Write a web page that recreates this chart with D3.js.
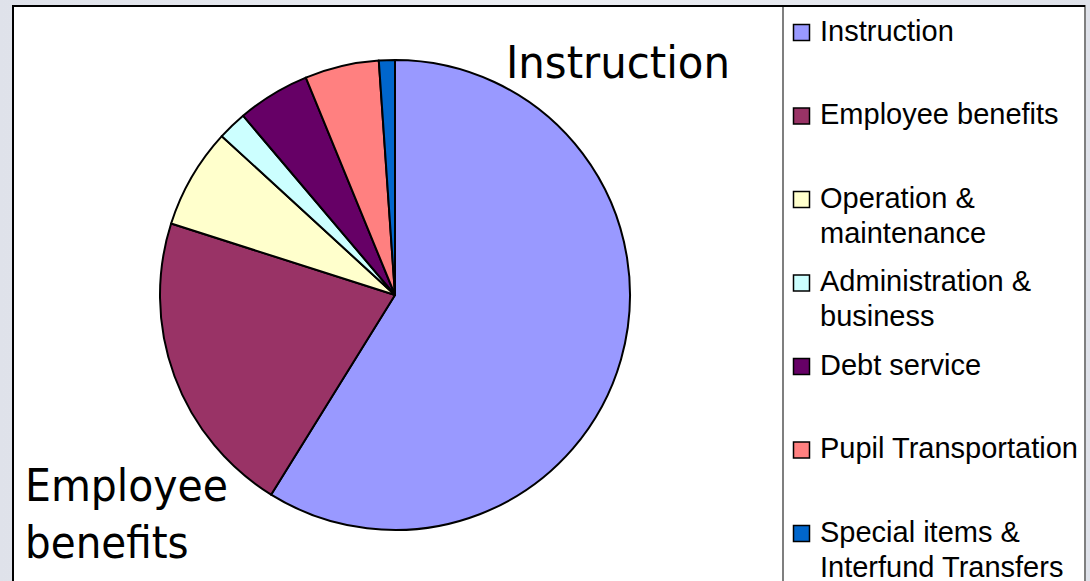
<!DOCTYPE html>
<html>
<head>
<meta charset="utf-8">
<script src="https://cdn.jsdelivr.net/npm/d3@7"></script>
<style>
  html, body { margin: 0; padding: 0; background: #e4e7ee; }
  svg { display: block; }
</style>
</head>
<body>
<div id="chart"></div>
<script>
const categories = [
  'Instruction',
  'Employee benefits',
  'Operation & maintenance',
  'Administration & business',
  'Debt service',
  'Pupil Transportation',
  'Special items & Interfund Transfers'
];
const values = [58.9, 21.1, 6.9, 2.0, 5.0, 5.1, 1.1];
const legendLines = [
  ['Instruction'],
  ['Employee benefits'],
  ['Operation &', 'maintenance'],
  ['Administration &', 'business'],
  ['Debt service'],
  ['Pupil Transportation'],
  ['Special items &', 'Interfund Transfers']
];
const colors = ['#9999FF', '#993366', '#FFFFCC', '#CCFFFF', '#660066', '#FF8080', '#0066CC'];

const width = 1090;
const height = 581;
const cx = 395;
const cy = 295;
const radius = 235;

const svg = d3.select('#chart')
  .append('svg')
  .attr('width', width)
  .attr('height', height);

const defs = svg.append('defs');
const bg = defs.append('linearGradient').attr('id', 'bg-gradient');
bg.append('stop').attr('offset', '0%').attr('stop-color', '#dfe2ea');
bg.append('stop').attr('offset', '50%').attr('stop-color', '#eceef3');
bg.append('stop').attr('offset', '100%').attr('stop-color', '#dfe2ea');

svg.append('rect')
  .attr('width', width)
  .attr('height', height)
  .attr('fill', 'url(#bg-gradient)');

// plot area
svg.append('rect')
  .attr('x', 13)
  .attr('y', 6)
  .attr('width', 1072)
  .attr('height', 600)
  .attr('fill', 'white')
  .attr('stroke', 'black')
  .attr('stroke-width', 2);

const color = d3.scaleOrdinal().domain(categories).range(colors);

const pie = d3.pie().sort(null).value(d => d.value);
const arc = d3.arc().innerRadius(0).outerRadius(radius);
const data = categories.map((c, i) => ({name: c, value: values[i]}));

const pieGroup = svg.append('g')
  .attr('transform', `translate(${cx}, ${cy})`);

pieGroup.selectAll('path')
  .data(pie(data))
  .join('path')
  .attr('d', arc)
  .attr('fill', d => color(d.data.name))
  .attr('stroke', 'black')
  .attr('stroke-width', 2)
  .attr('stroke-linejoin', 'round');

// big labels
const labelFont = '"DejaVu Sans Condensed", "DejaVu Sans", sans-serif';
svg.append('text')
  .attr('x', 506)
  .attr('y', 78)
  .style('font-family', labelFont)
  .style('font-size', '45px')
  .attr('textLength', 224)
  .attr('lengthAdjust', 'spacingAndGlyphs')
  .text('Instruction');

svg.append('text')
  .attr('x', 25)
  .attr('y', 501)
  .style('font-family', labelFont)
  .style('font-size', '45px')
  .attr('textLength', 203)
  .attr('lengthAdjust', 'spacingAndGlyphs')
  .text('Employee');

svg.append('text')
  .attr('x', 25)
  .attr('y', 558)
  .style('font-family', labelFont)
  .style('font-size', '45px')
  .text('benefits');

// legend
svg.append('rect')
  .attr('x', 783)
  .attr('y', 6)
  .attr('width', 302)
  .attr('height', 600)
  .attr('fill', 'white')
  .attr('stroke', '#7f7f7f')
  .attr('stroke-width', 2);

svg.append('line')
  .attr('x1', 13).attr('x2', 1085)
  .attr('y1', 6).attr('y2', 6)
  .attr('stroke', 'black')
  .attr('stroke-width', 2);

const legendY = d3.scaleLinear().domain([0, 6]).range([40.5, 541.5]);

const legend = svg.append('g').attr('class', 'legend');
const items = legend.selectAll('g')
  .data(categories)
  .join('g')
  .attr('transform', (d, i) => `translate(0, ${legendY(i)})`);

items.append('rect')
  .attr('x', 793.5)
  .attr('y', -16)
  .attr('width', 16)
  .attr('height', 16)
  .attr('fill', d => color(d))
  .attr('stroke', 'black')
  .attr('stroke-width', 1.5);

items.append('text')
  .style('font-family', '"Liberation Sans", Arial, sans-serif')
  .style('font-size', '29px')
  .attr('fill', 'black')
  .selectAll('tspan')
  .data((d, i) => legendLines[i])
  .join('tspan')
  .attr('x', 820)
  .attr('y', (d, j) => j * 35)
  .text(d => d);
</script>
</body>
</html>
